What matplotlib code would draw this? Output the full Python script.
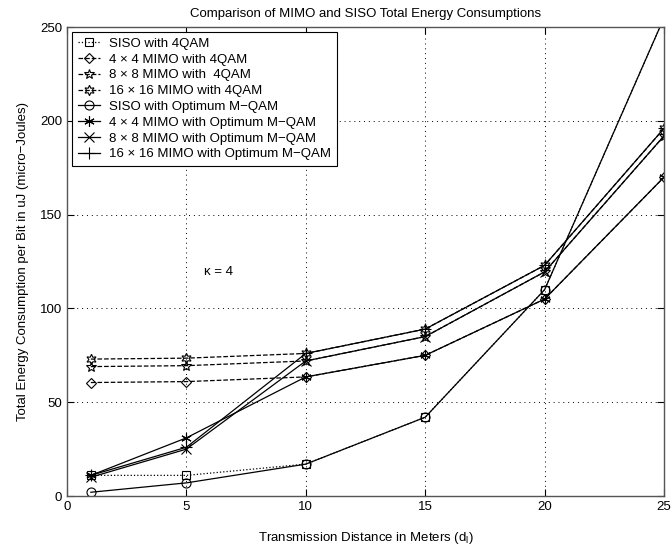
import matplotlib
matplotlib.use("Agg")
import matplotlib.pyplot as plt

plt.rcParams['font.family'] = ['Liberation Sans', 'DejaVu Sans']
plt.rcParams['mathtext.fontset'] = 'custom'
plt.rcParams['mathtext.rm'] = 'Liberation Sans'

# Transmission distances (m)
distance = [1, 5, 10, 15, 20, 25]

# Total energy per bit (uJ)
siso_4qam = [11, 11, 17, 42, 110, 255]
mimo4_4qam = [60.5, 61, 63.5, 75, 105, 170]
mimo8_4qam = [69, 69.5, 72, 85, 119.5, 192]
mimo16_4qam = [73, 73.5, 76, 89, 123, 196]
siso_opt = [2, 7, 17, 42, 110, 255]
mimo4_opt = [11, 31, 63.5, 75, 105, 170]
mimo8_opt = [10, 25, 72, 85, 119.5, 192]
mimo16_opt = [11, 26, 76, 89, 123, 196]

labels = ['SISO with 4QAM',
          '4 \u00d7 4 MIMO with 4QAM',
          '8 \u00d7 8 MIMO with  4QAM',
          '16 \u00d7 16 MIMO with 4QAM',
          'SISO with Optimum M\u2212QAM',
          '4 \u00d7 4 MIMO with Optimum M\u2212QAM',
          '8 \u00d7 8 MIMO with Optimum M\u2212QAM',
          '16 \u00d7 16 MIMO with Optimum M\u2212QAM']

series = [siso_4qam, mimo4_4qam, mimo8_4qam, mimo16_4qam,
          siso_opt, mimo4_opt, mimo8_opt, mimo16_opt]
styles = [':', '--', '--', '--', '-', '-', '-', '-']
markers = ['s', 'D', '*', (6, 1, 0), 'o', (6, 2, 0), 'x', '+']
msizes = [5.5, 5.5, 7.5, 7.5, 6.5, 7.5, 6.5, 8.5]

fig = plt.figure(figsize=(6.71, 5.51), dpi=100)
ax = fig.add_axes([0.0998, 0.0998, 0.8898, 0.851])

for y, lab, ls, mk, ms in zip(series, labels, styles, markers, msizes):
    ax.plot(distance, y, linestyle=ls, marker=mk, markersize=ms,
            color='black', markerfacecolor='none', markeredgewidth=0.8,
            linewidth=0.9, label=lab)

ax.set_xlim(0, 25)
ax.set_ylim(0, 250)
ax.set_xticks(range(0, 26, 5))
ax.set_yticks(range(0, 251, 50))
ax.grid(True, linestyle=(0, (1, 4)), color='black', linewidth=0.7)
ax.tick_params(direction='in', top=True, right=True, labelsize=9.5, length=5)
for s in ax.spines.values():
    s.set_linewidth(1.0)
    s.set_color('#555555')

ax.set_title('Comparison of MIMO and SISO Total Energy Consumptions', fontsize=9.5, pad=7)
ax.set_xlabel('Transmission Distance in Meters (d$_\\mathregular{l}$)', fontsize=9.5, labelpad=12)
ax.set_ylabel('Total Energy Consumption per Bit in uJ (micro\u2212Joules)', fontsize=9.5, labelpad=8)

ax.text(5.75, 118, '\u03ba = 4', fontsize=9.5)

leg = ax.legend(loc='upper left', fontsize=9.5, handlelength=1.7, labelspacing=0.27,
                handletextpad=0.7, borderpad=0.45, borderaxespad=0.35, fancybox=False,
                framealpha=1, edgecolor='black')
leg.get_frame().set_linewidth(0.8)

fig.savefig('out.png', dpi=100)
